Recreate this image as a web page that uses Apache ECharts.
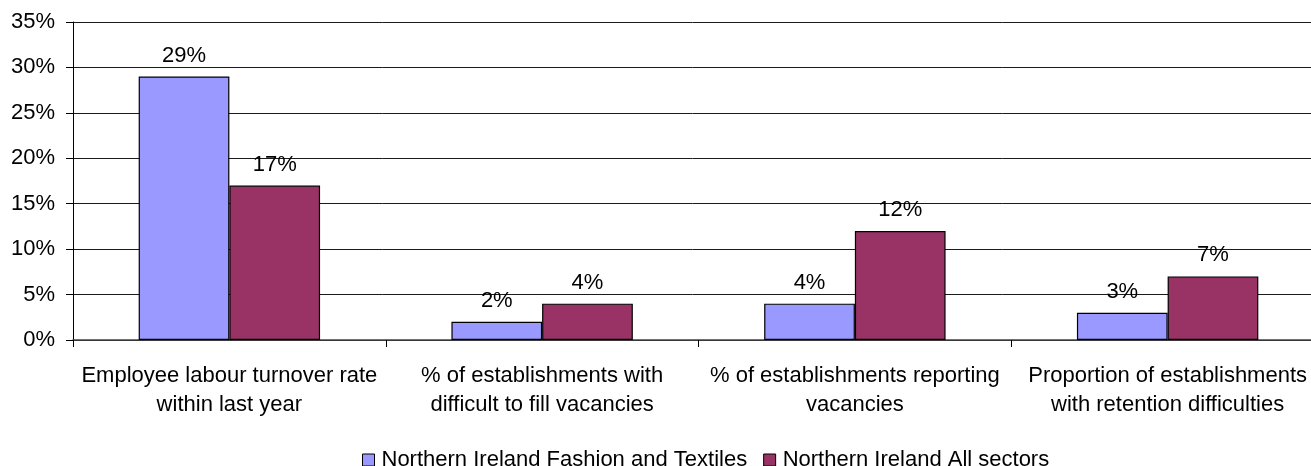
<!DOCTYPE html>
<html>
<head>
<meta charset="utf-8">
<title>Labour turnover, vacancies and retention</title>
<script src="https://cdn.jsdelivr.net/npm/echarts@6/dist/echarts.min.js"></script>
<style>
  html, body { margin: 0; padding: 0; background: #ffffff; }
  #chart { width: 1311px; height: 466px; }
</style>
</head>
<body>
<div id="chart"></div>
<script>
// Category labels (two lines each)
const categories = [
  'Employee labour turnover rate\nwithin last year',
  '% of establishments with\ndifficult to fill vacancies',
  '% of establishments reporting\nvacancies',
  'Proportion of establishments\nwith retention difficulties'
];

// Series names and values (percent)
const seriesNames = ['Northern Ireland Fashion and Textiles', 'Northern Ireland All sectors'];
const fashionTextiles = [29, 2, 4, 3];
const allSectors = [17, 4, 12, 7];

// Value axis range (percent)
const yMin = 0;
const yMax = 35;
const yStep = 5;

const FONT = '"Liberation Sans", Arial, sans-serif';
const FS = 22;

const chart = echarts.init(document.getElementById('chart'));

chart.setOption({
  animation: false,
  backgroundColor: '#ffffff',
  textStyle: { fontFamily: FONT, color: '#000' },
  grid: {
    left: 73,
    top: 22,
    width: 1251,
    height: 318,
    containLabel: false,
    outerBoundsMode: 'none'
  },
  legend: {
    left: 357,
    top: 444,
    itemWidth: 12,
    itemHeight: 12,
    itemGap: 16,
    icon: 'rect',
    itemStyle: { borderColor: '#000', borderWidth: 1 },
    textStyle: { fontFamily: FONT, fontSize: FS, color: '#000', padding: [0, 0, 0, 2] },
    data: seriesNames
  },
  xAxis: {
    type: 'category',
    data: categories,
    boundaryGap: true,
    axisLine: { show: true, lineStyle: { color: '#444', width: 1.5 } },
    axisTick: { show: true, length: 7, inside: false, lineStyle: { color: '#000', width: 1 } },
    axisLabel: {
      interval: 0,
      margin: 21,
      fontFamily: FONT,
      fontSize: FS,
      lineHeight: 29,
      color: '#000',
      align: 'center'
    },
    splitLine: { show: false }
  },
  yAxis: {
    type: 'value',
    min: yMin,
    max: yMax,
    interval: yStep,
    axisLine: { show: true, lineStyle: { color: '#000', width: 1 } },
    axisTick: { show: true, length: 7, inside: false, lineStyle: { color: '#000', width: 1 } },
    axisLabel: {
      margin: 18,
      fontFamily: FONT,
      fontSize: FS,
      color: '#000',
      formatter: '{value}%'
    },
    splitLine: { show: true, lineStyle: { color: '#1a1a1a', width: 1 } }
  },
  series: [
    {
      name: seriesNames[0],
      type: 'bar',
      data: fashionTextiles,
      barGap: '0%',
      barCategoryGap: '42%',
      itemStyle: { color: '#9999FF', borderColor: '#000', borderWidth: 1.2 },
      label: {
        show: true,
        position: 'top',
        distance: 10,
        fontFamily: FONT,
        fontSize: FS,
        color: '#000',
        formatter: '{c}%'
      }
    },
    {
      name: seriesNames[1],
      type: 'bar',
      data: allSectors,
      barGap: '0%',
      barCategoryGap: '42%',
      itemStyle: { color: '#993366', borderColor: '#000', borderWidth: 1.2 },
      label: {
        show: true,
        position: 'top',
        distance: 10,
        fontFamily: FONT,
        fontSize: FS,
        color: '#000',
        formatter: '{c}%'
      }
    }
  ]
});
</script>
</body>
</html>
